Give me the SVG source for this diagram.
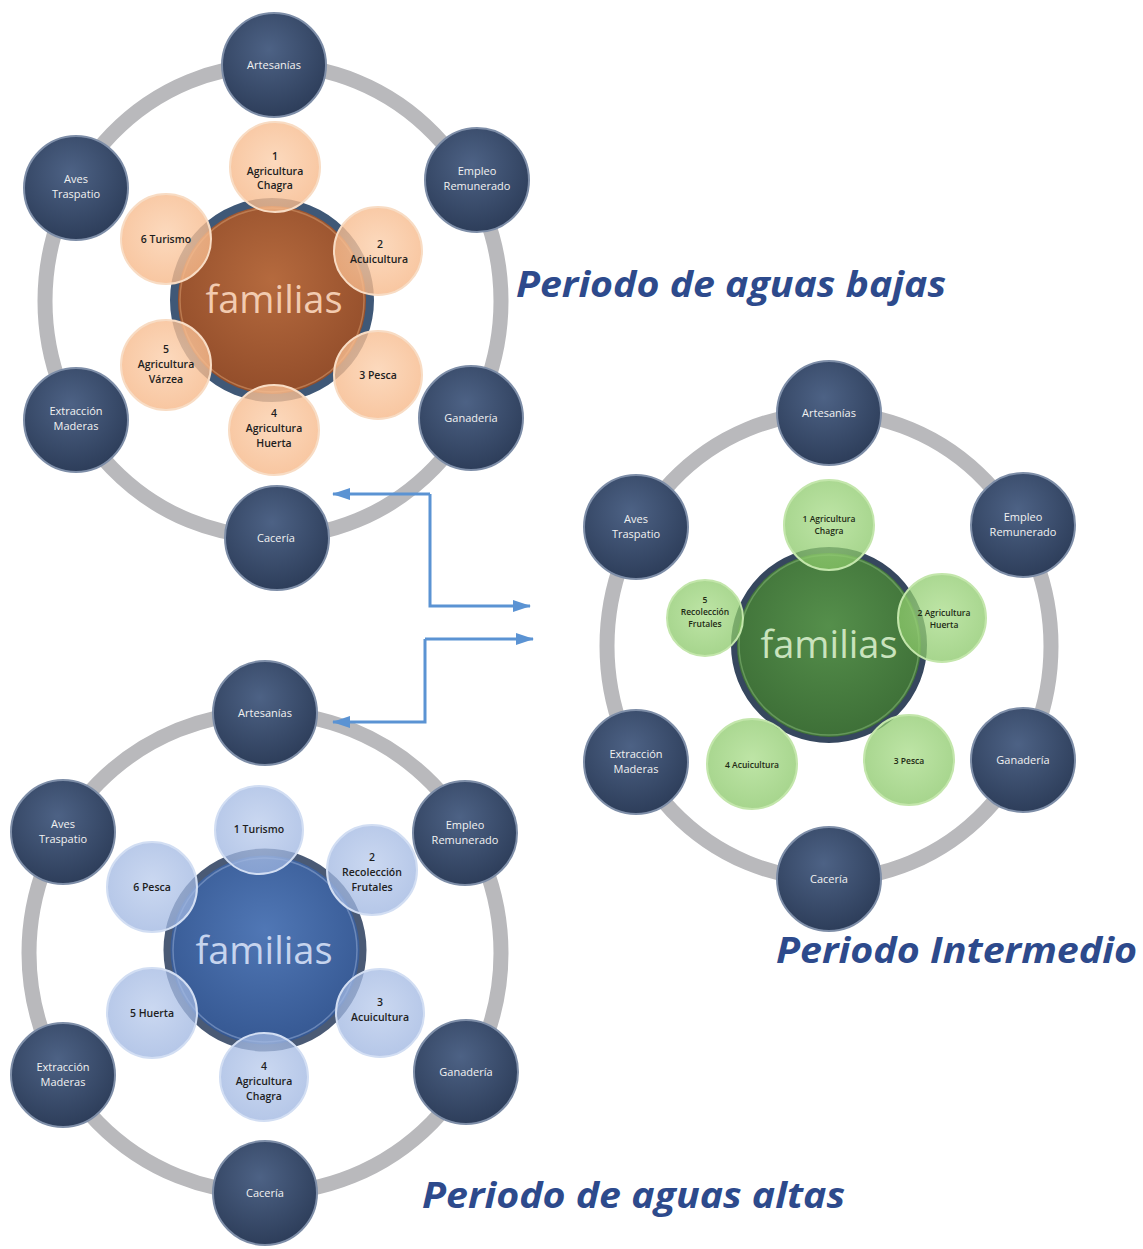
<svg xmlns="http://www.w3.org/2000/svg" width="1143" height="1249" viewBox="0 0 1143 1249">
<defs>
<radialGradient id="gOuter" cx="0.45" cy="0.35" r="0.7">
<stop offset="0" stop-color="#4d6285"/>
<stop offset="1" stop-color="#2b3b57"/>
</radialGradient>
<radialGradient id="gOrangeC" cx="0.5" cy="0.4" r="0.65">
<stop offset="0" stop-color="#b56a3e"/>
<stop offset="1" stop-color="#8f4a28"/>
</radialGradient>
<radialGradient id="gGreenC" cx="0.5" cy="0.4" r="0.65">
<stop offset="0" stop-color="#558f4b"/>
<stop offset="1" stop-color="#3b6c35"/>
</radialGradient>
<radialGradient id="gBlueC" cx="0.5" cy="0.4" r="0.65">
<stop offset="0" stop-color="#5077b5"/>
<stop offset="1" stop-color="#33558f"/>
</radialGradient>
<radialGradient id="gOrangeS" cx="0.5" cy="0.45" r="0.6">
<stop offset="0" stop-color="#fbd0ad"/>
<stop offset="1" stop-color="#f6b686"/>
</radialGradient>
<radialGradient id="gGreenS" cx="0.5" cy="0.45" r="0.6">
<stop offset="0" stop-color="#a8dc88"/>
<stop offset="1" stop-color="#86c564"/>
</radialGradient>
<radialGradient id="gBlueS" cx="0.5" cy="0.45" r="0.6">
<stop offset="0" stop-color="#b9cbec"/>
<stop offset="1" stop-color="#9ab2df"/>
</radialGradient>
<marker id="arr" markerWidth="18" markerHeight="12" refX="17" refY="6" orient="auto" markerUnits="userSpaceOnUse">
<path d="M0,0 L18,6 L0,12 Z" fill="#5b93d3"/>
</marker>
</defs>
<style>
.ring{fill:none;stroke:#b9b9bc;stroke-width:15}
.outer{fill:url(#gOuter);stroke:#7e8ea8;stroke-width:2}
.otext{font-family:"Open Sans","Liberation Sans",sans-serif;font-size:11px;fill:#f2f2f2;text-anchor:middle}
.stext{font-family:"Open Sans","Liberation Sans",sans-serif;font-size:10.5px;fill:#1e1e1e;text-anchor:middle;font-weight:600}
.stextg{font-family:"Open Sans","Liberation Sans",sans-serif;font-size:8.5px;fill:#1e2a14;text-anchor:middle;font-weight:600}
.ftext{font-family:"Open Sans","Liberation Sans",sans-serif;font-size:38px;text-anchor:middle}
.title{font-family:"Open Sans","Liberation Sans",sans-serif;font-size:35px;font-weight:bold;font-style:italic;fill:#2d4a8c}
.sO{fill:url(#gOrangeS);fill-opacity:0.8;stroke:#f8dcc4;stroke-width:2}
.sG{fill:url(#gGreenS);fill-opacity:0.75;stroke:#c3e6ab;stroke-width:2}
.sB{fill:url(#gBlueS);fill-opacity:0.75;stroke:#d2def3;stroke-width:2}
.conn{fill:none;stroke:#5b93d3;stroke-width:3}
</style>
<rect width="1143" height="1249" fill="#ffffff"/>

<g id="rings">
<ellipse class="ring" cx="273" cy="301" rx="228" ry="236"/>
<ellipse class="ring" cx="829" cy="646" rx="222" ry="233"/>
<ellipse class="ring" cx="265" cy="953" rx="236" ry="240"/>
</g>

<g id="connectors">
<polyline class="conn" points="430,494 430,606 530,606" marker-end="url(#arr)"/>
<line class="conn" x1="430" y1="494" x2="333" y2="494" marker-end="url(#arr)"/>
<polyline class="conn" points="425,639 425,722 333,722" marker-end="url(#arr)"/>
<line class="conn" x1="425" y1="639" x2="533" y2="639" marker-end="url(#arr)"/>
</g>

<g id="top-outer">
<g id="t-artesanias"><circle class="outer" cx="274" cy="65" r="52"/><text class="otext" x="274" y="69">Artesanías</text></g>
<g id="t-empleo"><circle class="outer" cx="477" cy="180" r="52"/><text class="otext" x="477" y="175">Empleo</text><text class="otext" x="477" y="190">Remunerado</text></g>
<g id="t-ganaderia"><circle class="outer" cx="471" cy="418" r="52"/><text class="otext" x="471" y="422">Ganadería</text></g>
<g id="t-caceria"><circle class="outer" cx="277" cy="538" r="52"/><text class="otext" x="276" y="542">Cacería</text></g>
<g id="t-extraccion"><circle class="outer" cx="76" cy="420" r="52"/><text class="otext" x="76" y="415">Extracción</text><text class="otext" x="76" y="430">Maderas</text></g>
<g id="t-aves"><circle class="outer" cx="76" cy="188" r="52"/><text class="otext" x="76" y="183">Aves</text><text class="otext" x="76" y="198">Traspatio</text></g>
</g>
<g id="top-center">
<circle cx="272" cy="300" r="98" fill="url(#gOrangeC)" stroke="#3f5877" stroke-width="8"/>
<circle cx="272" cy="300" r="92" fill="none" stroke="#c98a5e" stroke-width="1.5" opacity="0.7"/>
</g>
<g id="top-small">
<g id="t-s1"><circle class="sO" cx="275" cy="167" r="45"/><text class="stext" x="275" y="160">1</text><text class="stext" x="275" y="175">Agricultura</text><text class="stext" x="275" y="189">Chagra</text></g>
<g id="t-s2"><circle class="sO" cx="378" cy="251" r="44"/><text class="stext" x="380" y="248">2</text><text class="stext" x="379" y="263">Acuicultura</text></g>
<g id="t-s3"><circle class="sO" cx="378" cy="375" r="44"/><text class="stext" x="378" y="379">3 Pesca</text></g>
<g id="t-s4"><circle class="sO" cx="274" cy="430" r="45"/><text class="stext" x="274" y="417">4</text><text class="stext" x="274" y="432">Agricultura</text><text class="stext" x="274" y="447">Huerta</text></g>
<g id="t-s5"><circle class="sO" cx="166" cy="365" r="45"/><text class="stext" x="166" y="353">5</text><text class="stext" x="166" y="368">Agricultura</text><text class="stext" x="166" y="383">Várzea</text></g>
<g id="t-s6"><circle class="sO" cx="166" cy="239" r="45"/><text class="stext" x="166" y="243">6 Turismo</text></g>
</g>
<text class="ftext" x="274" y="313" fill="#f2cbb0">familias</text>
<text class="title" x="516" y="297" textLength="430" lengthAdjust="spacingAndGlyphs">Periodo de aguas bajas</text>

<g id="mid-outer">
<g id="m-artesanias"><circle class="outer" cx="829" cy="413" r="52"/><text class="otext" x="829" y="417">Artesanías</text></g>
<g id="m-empleo"><circle class="outer" cx="1023" cy="525" r="52"/><text class="otext" x="1023" y="521">Empleo</text><text class="otext" x="1023" y="536">Remunerado</text></g>
<g id="m-ganaderia"><circle class="outer" cx="1023" cy="760" r="52"/><text class="otext" x="1023" y="764">Ganadería</text></g>
<g id="m-caceria"><circle class="outer" cx="829" cy="879" r="52"/><text class="otext" x="829" y="883">Cacería</text></g>
<g id="m-extraccion"><circle class="outer" cx="636" cy="762" r="52"/><text class="otext" x="636" y="758">Extracción</text><text class="otext" x="636" y="773">Maderas</text></g>
<g id="m-aves"><circle class="outer" cx="636" cy="527" r="52"/><text class="otext" x="636" y="523">Aves</text><text class="otext" x="636" y="538">Traspatio</text></g>
</g>
<g id="mid-center">
<circle cx="829" cy="645" r="95" fill="url(#gGreenC)" stroke="#36475e" stroke-width="6"/>
<circle cx="829" cy="645" r="90" fill="none" stroke="#7fb072" stroke-width="1.5" opacity="0.6"/>
</g>
<g id="mid-small">
<g id="m-s1"><circle class="sG" cx="829" cy="525" r="45"/><text class="stextg" x="829" y="522">1 Agricultura</text><text class="stextg" x="829" y="534">Chagra</text></g>
<g id="m-s2"><circle class="sG" cx="942" cy="618" r="44"/><text class="stextg" x="944" y="616">2 Agricultura</text><text class="stextg" x="944" y="628">Huerta</text></g>
<g id="m-s3"><circle class="sG" cx="909" cy="760" r="45"/><text class="stextg" x="909" y="764">3 Pesca</text></g>
<g id="m-s4"><circle class="sG" cx="752" cy="764" r="45"/><text class="stextg" x="752" y="768">4 Acuicultura</text></g>
<g id="m-s5"><circle class="sG" cx="705" cy="618" r="38"/><text class="stextg" x="705" y="603">5</text><text class="stextg" x="705" y="615">Recolección</text><text class="stextg" x="705" y="627">Frutales</text></g>
</g>
<text class="ftext" x="829" y="658" fill="#c9e3bd">familias</text>
<text class="title" x="776" y="963" textLength="361" lengthAdjust="spacingAndGlyphs">Periodo Intermedio</text>

<g id="bot-outer">
<g id="b-artesanias"><circle class="outer" cx="265" cy="713" r="52"/><text class="otext" x="265" y="717">Artesanías</text></g>
<g id="b-empleo"><circle class="outer" cx="465" cy="833" r="52"/><text class="otext" x="465" y="829">Empleo</text><text class="otext" x="465" y="844">Remunerado</text></g>
<g id="b-ganaderia"><circle class="outer" cx="466" cy="1072" r="52"/><text class="otext" x="466" y="1076">Ganadería</text></g>
<g id="b-caceria"><circle class="outer" cx="265" cy="1193" r="52"/><text class="otext" x="265" y="1197">Cacería</text></g>
<g id="b-extraccion"><circle class="outer" cx="63" cy="1075" r="52"/><text class="otext" x="63" y="1071">Extracción</text><text class="otext" x="63" y="1086">Maderas</text></g>
<g id="b-aves"><circle class="outer" cx="63" cy="832" r="52"/><text class="otext" x="63" y="828">Aves</text><text class="otext" x="63" y="843">Traspatio</text></g>
</g>
<g id="bot-center">
<circle cx="265" cy="950" r="98" fill="url(#gBlueC)" stroke="#4a5a75" stroke-width="7"/>
<circle cx="265" cy="950" r="92" fill="none" stroke="#8aa3cf" stroke-width="1.5" opacity="0.6"/>
</g>
<g id="bot-small">
<g id="b-s1"><circle class="sB" cx="259" cy="830" r="44"/><text class="stext" x="259" y="833">1 Turismo</text></g>
<g id="b-s2"><circle class="sB" cx="372" cy="870" r="45"/><text class="stext" x="372" y="861">2</text><text class="stext" x="372" y="876">Recolección</text><text class="stext" x="372" y="891">Frutales</text></g>
<g id="b-s3"><circle class="sB" cx="380" cy="1013" r="44"/><text class="stext" x="380" y="1006">3</text><text class="stext" x="380" y="1021">Acuicultura</text></g>
<g id="b-s4"><circle class="sB" cx="264" cy="1077" r="44"/><text class="stext" x="264" y="1070">4</text><text class="stext" x="264" y="1085">Agricultura</text><text class="stext" x="264" y="1100">Chagra</text></g>
<g id="b-s5"><circle class="sB" cx="152" cy="1013" r="45"/><text class="stext" x="152" y="1017">5 Huerta</text></g>
<g id="b-s6"><circle class="sB" cx="152" cy="887" r="45"/><text class="stext" x="152" y="891">6 Pesca</text></g>
</g>
<text class="ftext" x="264" y="964" fill="#c6d4ee">familias</text>
<text class="title" x="422" y="1208" textLength="423" lengthAdjust="spacingAndGlyphs">Periodo de aguas altas</text>
</svg>
